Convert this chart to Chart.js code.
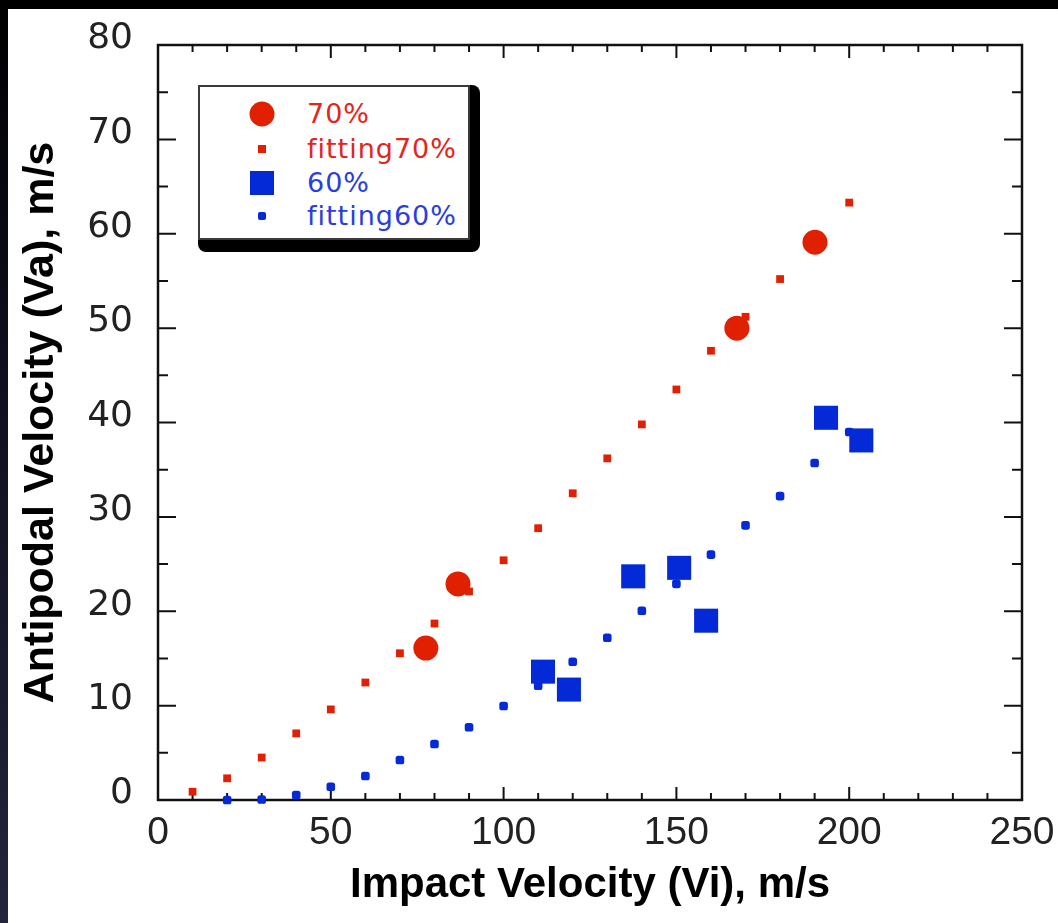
<!DOCTYPE html>
<html>
<head>
<meta charset="utf-8">
<script src="https://cdn.jsdelivr.net/npm/chart.js@4.4.0/dist/chart.umd.min.js"></script>
<style>
    html, body { margin: 0; padding: 0; }
    body {
        width: 1058px; height: 923px; overflow: hidden; position: relative;
        background: linear-gradient(to bottom, #000 0%, #0b0b18 30%, #24243c 100%);
    }
    #panel { position: absolute; left: 8px; top: 9px; width: 1050px; height: 914px; background: #fff; }
    #chart { display: block; }
    #legendShadow {
        position: absolute; left: 190px; top: 76px; width: 282px; height: 167px;
        background: #000; border-radius: 0 8px 8px 8px;
    }
    #legend {
        position: absolute; left: 190px; top: 76px; width: 272px; height: 155px;
        box-sizing: border-box; border: 2px solid #3a3a3a; background: #fff;
    }
    .row { position: absolute; left: 0; width: 100%; height: 0; }
    .mark { position: absolute; transform: translate(-50%, -50%); left: 62px; top: 0; }
    .lbl {
        position: absolute; left: 107px; top: 0; transform: translateY(-52%);
        font-family: "DejaVu Sans", sans-serif; font-size: 27px; letter-spacing: 1px;
        white-space: nowrap; line-height: 1;
    }
</style>
</head>
<body>
<div id="panel">
    <canvas id="chart" width="1050" height="914"></canvas>
    <div id="legendShadow"></div>
    <div id="legend"></div>
</div>
<script>
const RED = '#e02000';
const BLUE = '#0429d6';

// measured points
const exp70X = [77.5, 86.8, 167.5, 190.1];
const exp70Y = [16.1, 22.9, 50.0, 59.1];
const exp60X = [111.4, 118.9, 137.5, 150.8, 158.6, 193.3, 203.5];
const exp60Y = [13.6, 11.7, 23.7, 24.6, 19.0, 40.5, 38.1];

// fitted curves
const fit70X = [10, 20, 30, 40, 50, 60, 70, 80, 90, 100, 110, 120, 130, 140, 150, 160, 170, 180, 190, 200];
const fit70Y = [0.88, 2.3, 4.5, 7.06, 9.6, 12.45, 15.55, 18.7, 22.1, 25.4, 28.8, 32.5, 36.2, 39.8, 43.5, 47.6, 51.2, 55.2, 59.2, 63.3];
const fit60X = [20, 30, 40, 50, 60, 70, 80, 90, 100, 110, 120, 130, 140, 150, 160, 170, 180, 190, 200];
const fit60Y = [0.0, 0.05, 0.53, 1.41, 2.54, 4.24, 5.93, 7.7, 9.96, 12.1, 14.65, 17.2, 20.05, 22.9, 26.0, 29.1, 32.2, 35.7, 39.0];

const xTicks = [0, 50, 100, 150, 200, 250];
const yTicks = [0, 10, 20, 30, 40, 50, 60, 70, 80];

const legendItems = [
    { text: '70%', color: '#e3261a', mark: `width:25px;height:25px;border-radius:50%;background:${RED}` },
    { text: 'fitting70%', color: '#e3261a', mark: `width:8px;height:8px;background:${RED}` },
    { text: '60%', color: '#2a3ee0', mark: `width:24px;height:24px;background:${BLUE}` },
    { text: 'fitting60%', color: '#2a3ee0', mark: `width:8px;height:8px;border-radius:2px;background:${BLUE}` }
];
const rowTops = [29, 64, 98, 131];

document.getElementById('legend').innerHTML = legendItems.map((it, i) => `
    <div class="row" style="top:${rowTops[i] - 2}px">
        <div class="mark" style="${it.mark}"></div>
        <div class="lbl" style="color:${it.color}">${it.text}</div>
    </div>`).join('');

const zip = (xs, ys) => xs.map((x, i) => ({ x: x, y: ys[i] }));

// frame round the plot with inward ticks on every side
const framePlugin = {
    id: 'frame',
    beforeDatasetsDraw(chart) {
        const { ctx, chartArea: a, scales: { x, y } } = chart;
        ctx.save();
        ctx.strokeStyle = '#111';
        ctx.lineWidth = 2;
        ctx.beginPath();
        for (let v = x.min; v <= x.max; v += 10) {
            const px = x.getPixelForValue(v);
            const len = v % 50 === 0 ? 13 : 7;
            ctx.moveTo(px, a.bottom); ctx.lineTo(px, a.bottom - len);
            ctx.moveTo(px, a.top); ctx.lineTo(px, a.top + len);
        }
        for (let v = y.min; v <= y.max; v += 5) {
            const py = y.getPixelForValue(v);
            const len = v % 10 === 0 ? 18 : 10;
            ctx.moveTo(a.left, py); ctx.lineTo(a.left + len, py);
            ctx.moveTo(a.right, py); ctx.lineTo(a.right - len, py);
        }
        ctx.stroke();
        ctx.lineWidth = 2.5;
        ctx.strokeRect(a.left, a.top, a.right - a.left, a.bottom - a.top);
        ctx.restore();
    }
};

new Chart(document.getElementById('chart'), {
    type: 'scatter',
    data: {
        datasets: [
            { label: '70%', data: zip(exp70X, exp70Y), pointStyle: 'circle', pointRadius: 12.5, backgroundColor: RED, borderWidth: 0, clip: false },
            { label: 'fitting70%', data: zip(fit70X, fit70Y), pointStyle: 'rect', pointRadius: 5.5, backgroundColor: RED, borderWidth: 0, clip: false },
            { label: '60%', data: zip(exp60X, exp60Y), pointStyle: 'rect', pointRadius: 17, backgroundColor: BLUE, borderWidth: 0, clip: false },
            { label: 'fitting60%', data: zip(fit60X, fit60Y), pointStyle: 'rectRounded', pointRadius: 5, backgroundColor: BLUE, borderWidth: 0, clip: false }
        ]
    },
    options: {
        responsive: false,
        animation: false,
        events: [],
        layout: { padding: { left: 0, top: 36, right: 36, bottom: 0 } },
        plugins: { legend: { display: false }, tooltip: { enabled: false } },
        scales: {
            x: {
                type: 'linear', min: 0, max: 250,
                afterBuildTicks: s => { s.ticks = xTicks.map(v => ({ value: v })); },
                afterFit: s => { s.height = 123; s.paddingLeft = 0; s.paddingRight = 0; },
                grid: { display: false, drawTicks: false },
                border: { display: false },
                ticks: { font: { family: 'Liberation Sans', size: 39 }, color: '#222', padding: 10, maxRotation: 0, autoSkip: false },
                title: {
                    display: true, text: 'Impact Velocity (Vi), m/s', color: '#000',
                    font: { family: 'Liberation Sans', weight: 'bold', size: 42 },
                    padding: { top: 0, bottom: 12 }
                }
            },
            y: {
                type: 'linear', min: 0, max: 80,
                afterBuildTicks: s => { s.ticks = yTicks.map(v => ({ value: v })); },
                afterFit: s => { s.width = 150; s.paddingTop = 0; s.paddingBottom = 0; },
                grid: { display: false, drawTicks: false },
                border: { display: false },
                ticks: { font: { family: 'DejaVu Sans', size: 36 }, color: '#222', padding: 25, labelOffset: -6, autoSkip: false },
                title: {
                    display: true, text: 'Antipodal Velocity (Va), m/s', color: '#000',
                    font: { family: 'Liberation Sans', weight: 'bold', size: 43 },
                    padding: { top: 7, bottom: 0 }
                }
            }
        }
    },
    plugins: [framePlugin]
});
</script>
</body>
</html>
